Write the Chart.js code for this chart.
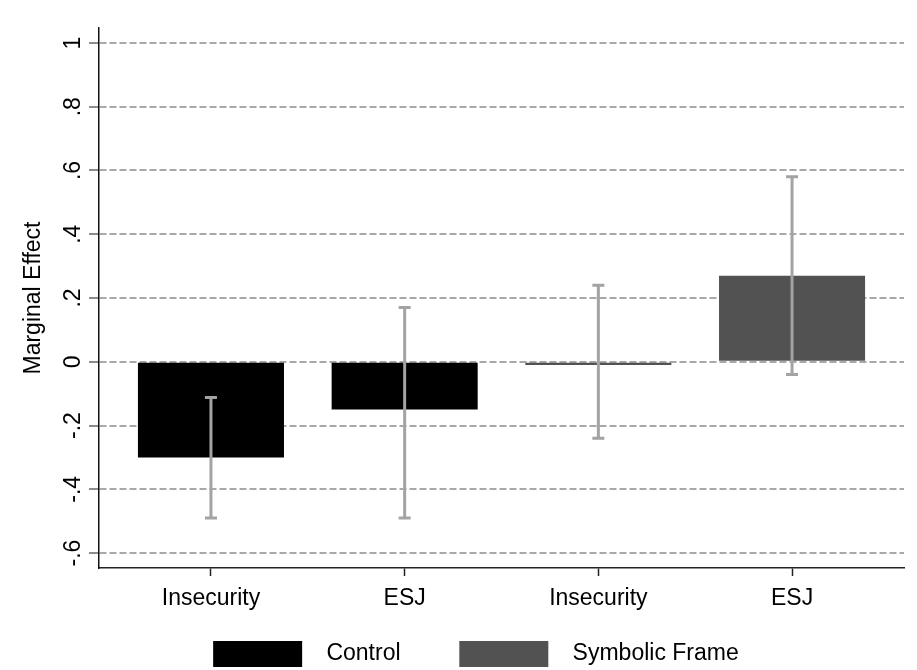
<!DOCTYPE html>
<html>
<head>
<meta charset="utf-8">
<script src="https://cdn.jsdelivr.net/npm/chart.js@4.4.1/dist/chart.umd.min.js"></script>
<style>
  html, body { margin: 0; padding: 0; background: #ffffff; }
  #chart { display: block; }
</style>
</head>
<body>
<canvas id="chart" width="917" height="670"></canvas>
<script>
// Category labels along the x axis and their positions on the linear scale
const categories = ['Insecurity', 'ESJ', 'Insecurity', 'ESJ'];
const categoryPositions = [1, 2, 3, 4];

// Series names shown in the legend
const seriesNames = ['Control', 'Symbolic Frame'];

// Control condition: estimates and confidence bounds
const controlPositions = [1, 2];
const controlEffect = [-0.30, -0.15];
const controlLower = [-0.49, -0.49];
const controlUpper = [-0.112, 0.17];

// Symbolic frame condition: estimates and confidence bounds
const symbolicPositions = [3, 4];
const symbolicEffect = [-0.01, 0.27];
const symbolicLower = [-0.24, -0.04];
const symbolicUpper = [0.24, 0.58];

// Y axis ticks and their labels
const yTickValues = [-0.6, -0.4, -0.2, 0, 0.2, 0.4, 0.6, 0.8, 1];
const yTickLabels = ['-.6', '-.4', '-.2', '0', '.2', '.4', '.6', '.8', '1'];

const FONT = 'Liberation Sans, Arial, Helvetica, sans-serif';
const FONT_SIZE = 23;

function points(xs, ys) {
  return xs.map((x, i) => ({ x: x, y: ys[i] }));
}

// Error bars (confidence intervals) drawn through the chart scales
const errorBarPlugin = {
  id: 'errorBars',
  afterDatasetsDraw(chart, args, opts) {
    const ctx = chart.ctx;
    const xs = chart.scales.x;
    const ys = chart.scales.y;
    const groups = [
      { pos: controlPositions, lo: controlLower, hi: controlUpper },
      { pos: symbolicPositions, lo: symbolicLower, hi: symbolicUpper }
    ];
    ctx.save();
    ctx.strokeStyle = opts.color;
    ctx.lineWidth = opts.width;
    ctx.lineCap = 'butt';
    groups.forEach(g => {
      g.pos.forEach((p, i) => {
        const x = xs.getPixelForValue(p);
        const yLo = ys.getPixelForValue(g.lo[i]);
        const yHi = ys.getPixelForValue(g.hi[i]);
        ctx.beginPath();
        ctx.moveTo(x, yLo);
        ctx.lineTo(x, yHi);
        ctx.moveTo(x - opts.capHalf, yLo);
        ctx.lineTo(x + opts.capHalf, yLo);
        ctx.moveTo(x - opts.capHalf, yHi);
        ctx.lineTo(x + opts.capHalf, yHi);
        ctx.stroke();
      });
    });
    ctx.restore();
  }
};

// Legend text with extra spacing after the swatch and between entries
const legendLead = '  ';
const legendTrail = [' '.repeat(7), ' '.repeat(8)];

Chart.defaults.font.family = FONT;
Chart.defaults.font.size = FONT_SIZE;
Chart.defaults.color = '#000000';

new Chart(document.getElementById('chart'), {
  type: 'bar',
  data: {
    datasets: [
      {
        label: seriesNames[0],
        data: points(controlPositions, controlEffect),
        backgroundColor: '#000000',
        borderWidth: 0
      },
      {
        label: seriesNames[1],
        data: points(symbolicPositions, symbolicEffect),
        backgroundColor: '#525252',
        borderWidth: 0
      }
    ]
  },
  options: {
    responsive: false,
    animation: false,
    devicePixelRatio: 1,
    grouped: false,
    categoryPercentage: 1,
    barPercentage: 0.754,
    layout: { padding: { top: 28, right: 13, bottom: -7, left: 0 } },
    scales: {
      x: {
        type: 'linear',
        offset: false,
        min: 0.422,
        max: 4.578,
        afterBuildTicks(scale) {
          scale.ticks = categoryPositions.map(v => ({ value: v }));
        },
        afterFit(scale) { scale.height = 59; },
        ticks: {
          callback: (value, index) => categories[index],
          padding: 9,
          maxRotation: 0,
          autoSkip: false,
          color: '#000000',
          font: { size: FONT_SIZE }
        },
        grid: {
          offset: false,
          drawOnChartArea: false,
          drawTicks: true,
          tickLength: 8,
          tickColor: '#222222',
          tickWidth: 1.5
        },
        border: { display: true, color: '#222222', width: 1.5 }
      },
      y: {
        type: 'linear',
        min: -0.647,
        max: 1.047,
        afterBuildTicks(scale) {
          scale.ticks = yTickValues.map(v => ({ value: v }));
        },
        afterFit(scale) { scale.width = 99; },
        ticks: {
          callback: (value, index) => yTickLabels[index],
          minRotation: 90,
          maxRotation: 90,
          crossAlign: 'center',
          padding: 1.5,
          color: '#000000',
          font: { size: FONT_SIZE }
        },
        grid: {
          color: '#a9a9a9',
          lineWidth: 2,
          drawTicks: true,
          tickLength: 10,
          tickColor: '#666666',
          tickWidth: 1.5,
          tickBorderDash: []
        },
        border: { display: true, color: '#111111', width: 1.5, dash: [7, 3] },
        title: {
          display: true,
          text: 'Marginal Effect',
          color: '#000000',
          font: { size: FONT_SIZE },
          padding: { top: 20, bottom: 0 }
        }
      }
    },
    plugins: {
      legend: {
        display: true,
        position: 'bottom',
        align: 'center',
        fullSize: false,
        labels: {
          boxWidth: 89,
          boxHeight: 26,
          padding: 14,
          color: '#000000',
          font: { size: FONT_SIZE },
          generateLabels(chart) {
            const items = Chart.defaults.plugins.legend.labels.generateLabels(chart);
            items.forEach((it, i) => {
              it.text = legendLead + seriesNames[i] + legendTrail[i];
              it.lineWidth = 0;
            });
            return items;
          }
        }
      },
      tooltip: { enabled: false },
      errorBars: { color: '#a3a3a3', width: 3, capHalf: 6 }
    }
  },
  plugins: [errorBarPlugin]
});
</script>
</body>
</html>
